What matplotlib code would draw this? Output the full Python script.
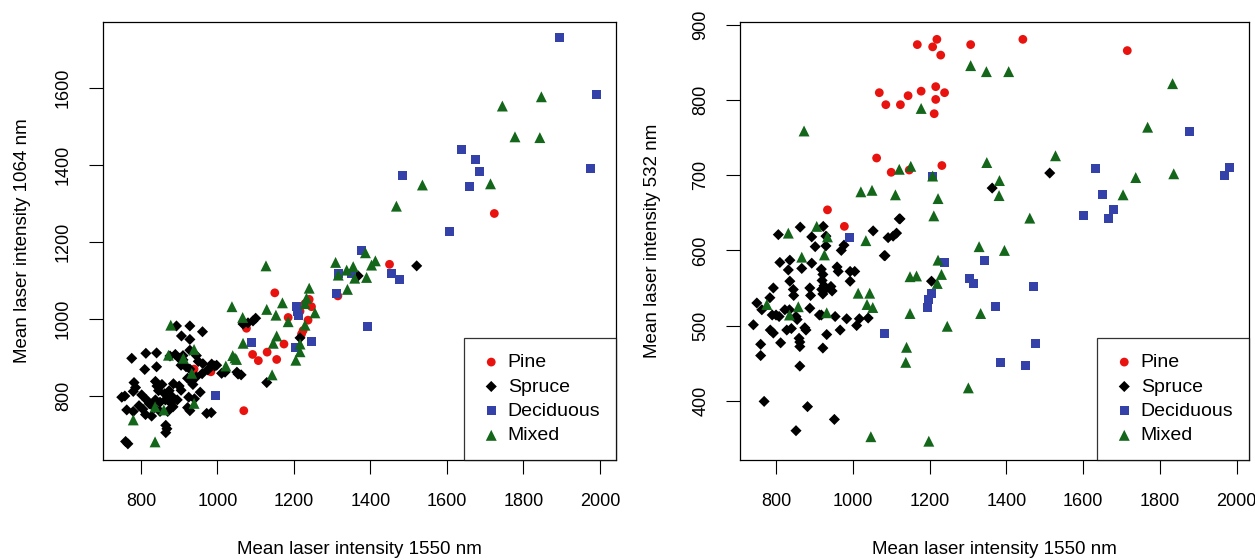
import matplotlib.pyplot as plt

plt.rcParams['font.family'] = ['Liberation Sans', 'DejaVu Sans']

# ---- data (1550 nm vs 1064 nm) ----
pine_x_1064 = [1724, 1450, 1150, 1076, 1185, 1240, 1246, 1237, 1220, 1224, 1174, 1092,
               1107, 1130, 1155, 1069, 983, 939, 1315, 1216, 1229]
pine_y_1064 = [1274, 1142, 1068, 976, 1004, 1051, 1032, 997, 961, 970, 935, 908,
               892, 914, 895, 762, 863, 870, 1060, 1020, 1040]

spruce_x_1064 = [1521, 1368, 1093, 1100, 1080, 1067, 1216, 1129, 1054, 1062, 1011, 993, 985, 975,
                 893, 928, 961, 906, 928,
                 776, 813, 841, 876, 890, 900, 910, 928,
                 810, 841, 905, 918, 928, 950, 962, 986, 998, 1020, 1051,
                 782, 786, 780, 750, 758, 802, 838, 842, 846, 862, 874, 880, 885, 900, 922, 932, 936,
                 763, 805, 812, 828, 822, 838, 850, 864, 878, 884, 922, 928, 925, 940, 972, 984,
                 865, 868, 865, 760, 766,
                 815, 795, 850, 870, 855, 945, 960, 905, 955, 895, 780, 835, 910, 945]
spruce_y_1064 = [1138, 1112, 995, 1002, 990, 987, 951, 835, 857, 855, 859, 878, 883, 868,
                 982, 982, 967, 956, 947,
                 898, 911, 912, 904, 908, 898, 894, 919,
                 869, 876, 880, 876, 870, 890, 884, 880, 880, 862, 862,
                 835, 822, 812, 797, 800, 803, 838, 826, 814, 806, 814, 800, 832, 826, 846, 838, 830,
                 764, 766, 752, 748, 780, 790, 784, 790, 782, 772, 770, 762, 797, 793, 755, 757,
                 724, 715, 705, 682, 676,
                 790, 775, 760, 760, 830, 850, 858, 815, 810, 790, 760, 770, 905, 905]

decid_x_1064 = [1895, 1990, 1638, 1676, 1686, 1484, 1658, 1975, 1607, 1378, 1456, 1477,
                1316, 1351, 1312, 1207, 1210, 1213, 1393, 1089, 1245, 1205, 996]
decid_y_1064 = [1730, 1583, 1441, 1414, 1384, 1373, 1344, 1390, 1228, 1177, 1119, 1103,
                1117, 1119, 1065, 1032, 1020, 1008, 980, 938, 941, 925, 802]

mixed_x_1064 = [1847, 1745, 1778, 1843, 1714, 1536, 1468, 1127, 1309, 1387, 1413, 1403,
                1355, 1338, 1316, 1359, 1390, 1340, 1240, 1233, 1229, 1255, 1229, 1170,
                1153, 1185, 1129, 1038, 1066, 1155, 1146, 1216, 1216, 1205, 1143, 1067,
                1046, 1040, 1050, 1022, 939, 911, 872, 878, 933, 837, 860, 939, 780, 837]
mixed_y_1064 = [1577, 1553, 1473, 1471, 1351, 1348, 1293, 1138, 1147, 1172, 1151, 1140,
                1136, 1127, 1114, 1106, 1108, 1077, 1080, 1054, 1040, 1016, 984, 1042,
                1010, 993, 1025, 1032, 1004, 956, 937, 935, 915, 893, 855, 937,
                899, 905, 895, 878, 921, 898, 906, 984, 859, 772, 764, 781, 738, 681]

# ---- data (1550 nm vs 532 nm) ----
pine_x_532 = [1219, 1168, 1208, 1229, 1307, 1443, 1715, 1069, 1086, 1124, 1144, 1178,
              1216, 1239, 1216, 1212, 1062, 1100, 1147, 1232, 934, 978]
pine_y_532 = [881, 874, 871, 860, 874, 881, 866, 810, 794, 794, 806, 812,
              818, 810, 801, 782, 723, 704, 707, 713, 654, 632]

spruce_x_532 = [863, 806, 893, 923, 930, 902, 930, 977, 970, 1053, 1105, 1092, 1123, 1082,
                810, 836, 867, 893, 832, 918, 922, 920, 925, 928, 959, 962, 993, 1005, 993,
                836, 793, 845, 846, 888, 890, 919, 922, 943, 946,
                784, 750, 763, 790, 800, 808, 823, 835, 852, 855, 888, 913, 918, 954, 984, 1017,
                741, 785, 793, 828, 840, 875, 878, 860, 862, 932, 967, 1010, 1040,
                760, 760, 812, 862, 922, 862,
                769, 882, 952, 852,
                1513, 1363, 1205, 1121, 1114, 1084]
spruce_y_532 = [631, 621, 618, 632, 619, 605, 606, 607, 600, 626, 619, 617, 642, 593,
                584, 587, 576, 583, 574, 575, 568, 560, 553, 548, 578, 572, 572, 572, 559,
                559, 550, 548, 540, 550, 540, 548, 542, 552, 546,
                537, 530, 521, 514, 514, 512, 521, 521, 512, 508, 523, 514, 514, 512, 509, 509,
                501, 494, 490, 494, 496, 497, 494, 483, 478, 488, 494, 500, 510,
                475, 460, 477, 472, 470, 446,
                399, 392, 375, 360,
                703, 683, 559, 642, 623, 593]

decid_x_532 = [1878, 1631, 1980, 1967, 1651, 1600, 1678, 1667, 1208, 992, 1238, 1344,
               1303, 1314, 1470, 1205, 1198, 1195, 1373, 1082, 1477, 1385, 1450]
decid_y_532 = [758, 709, 711, 700, 674, 646, 655, 642, 699, 617, 584, 587,
               562, 556, 552, 543, 535, 524, 525, 490, 476, 451, 447]

mixed_x_532 = [1307, 1348, 1406, 1833, 1178, 873, 1768, 1528, 1349, 1121, 1151, 1208,
               1737, 1836, 1382, 1381, 1704, 1021, 1050, 1111, 1222, 1211, 1461, 832,
               906, 934, 1034, 1329, 1395, 867, 926, 1222, 1149, 1166, 1231, 1220,
               1014, 1044, 1037, 1052, 858, 776, 835, 932, 1149, 1333, 1246, 1140,
               1138, 1301, 1047, 1198]
mixed_y_532 = [846, 838, 838, 822, 789, 759, 764, 726, 717, 708, 712, 699,
               697, 702, 693, 673, 674, 678, 680, 674, 669, 646, 643, 623,
               632, 618, 613, 605, 600, 591, 594, 587, 565, 566, 568, 556,
               543, 543, 528, 524, 525, 528, 514, 517, 516, 516, 499, 471,
               451, 417, 352, 346]

labels = ['Pine', 'Spruce', 'Deciduous', 'Mixed']
colors = ['#E8130F', 'black', '#3341A8', '#13661A']
markers = ['o', 'D', 's', '^']
sizes = [40, 32, 42, 62]

fig = plt.figure(figsize=(12.55, 5.6), dpi=100)
ax1 = fig.add_axes([0.0818, 0.1786, 0.409, 0.782])
ax2 = fig.add_axes([0.5896, 0.1786, 0.4056, 0.782])

panels = [
    (ax1, [(pine_x_1064, pine_y_1064), (spruce_x_1064, spruce_y_1064),
           (decid_x_1064, decid_y_1064), (mixed_x_1064, mixed_y_1064)],
     'Mean laser intensity 1064 nm', (700, 2042), (634, 1771), range(800, 1601, 200), -0.14),
    (ax2, [(pine_x_532, pine_y_532), (spruce_x_532, spruce_y_532),
           (decid_x_532, decid_y_532), (mixed_x_532, mixed_y_532)],
     'Mean laser intensity 532 nm', (706, 2032), (321, 904), range(400, 901, 100), -0.155),
]

for ax, series, ylab, xl, yl, yt, ylx in panels:
    for (x, y), lab, c, m, s in zip(series, labels, colors, markers, sizes):
        ax.scatter(x, y, s=s, c=c, marker=m, edgecolors='none', label=lab)
    ax.set_xlim(*xl)
    ax.set_ylim(*yl)
    ax.set_xticks(range(800, 2001, 200))
    ax.set_yticks(list(yt))
    ax.tick_params(axis='both', direction='out', length=10, width=0.8, labelsize=13)
    ax.tick_params(axis='x', pad=14)
    ax.tick_params(axis='y', pad=12, labelrotation=90)
    for t in ax.get_yticklabels():
        t.set_va('center')
    for sp in ax.spines.values():
        sp.set_linewidth(0.9)
    ax.set_xlabel('Mean laser intensity 1550 nm', fontsize=13.5)
    ax.set_ylabel(ylab, fontsize=13.5)
    ax.xaxis.set_label_coords(0.5, -0.185)
    ax.yaxis.set_label_coords(ylx, 0.5)
    leg = ax.legend(loc='lower right', fontsize=14, frameon=True, fancybox=False,
                    edgecolor='black', borderaxespad=0, scatterpoints=1,
                    handletextpad=0.25, labelspacing=0.35, borderpad=0.8,
                    handlelength=1.2)
    leg.get_frame().set_linewidth(0.9)

plt.savefig('out.png', dpi=100)
